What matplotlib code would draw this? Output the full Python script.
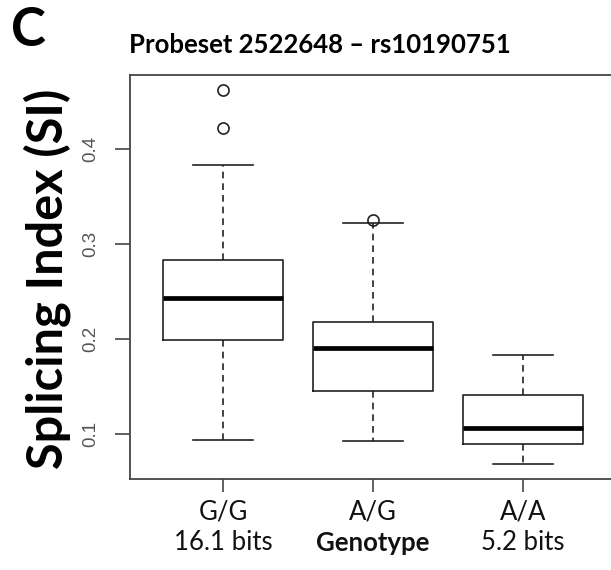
import matplotlib
matplotlib.use("Agg")
import matplotlib.pyplot as plt

# data
genotypes = ["G/G", "A/G", "A/A"]
bits = ["16.1 bits", "", "5.2 bits"]
whislo = [0.094, 0.093, 0.0685]
q1 = [0.199, 0.1457, 0.0898]
med = [0.2433, 0.1902, 0.1069]
q3 = [0.2829, 0.2175, 0.1412]
whishi = [0.3833, 0.3217, 0.1832]
fliers = [[0.4217, 0.462], [0.3249], []]
yticks = [0.1, 0.2, 0.3, 0.4]

plt.rcParams["font.family"] = ["Lato", "DejaVu Sans"]

fig = plt.figure(figsize=(6.11, 5.70), dpi=100)
ax = fig.add_axes([0.2128, 0.1596, 0.7949, 0.7088])

stats = []
for i in range(len(genotypes)):
    stats.append(dict(whislo=whislo[i], q1=q1[i], med=med[i], q3=q3[i],
                      whishi=whishi[i], fliers=fliers[i]))

ax.bxp(stats, positions=[1, 2, 3], widths=0.8, showfliers=True,
       boxprops=dict(color="#222222", linewidth=1.2),
       medianprops=dict(color="black", linewidth=3.4, solid_capstyle="butt"),
       whiskerprops=dict(color="#222222", linewidth=1.2, linestyle=(0, (4, 3))),
       capprops=dict(color="#222222", linewidth=1.2),
       capwidths=0.4,
       flierprops=dict(marker="o", markerfacecolor="none", markeredgecolor="#222222",
                       markersize=8, markeredgewidth=1.2))

ax.set_xlim(0.38, 3.62)
ax.set_ylim(0.0528, 0.4777)

for s in ax.spines.values():
    s.set_color("#444444")
    s.set_linewidth(1.3)

ax.set_yticks(yticks)
ax.set_yticklabels([f"{v:.1f}" for v in yticks], rotation=90, va="center",
                   family="Liberation Sans", fontsize=13.5, color="#555555")
ax.tick_params(axis="y", length=11, width=1.2, color="#444444", pad=11)

ax.set_xticks([1, 2, 3])
ax.set_xticklabels(genotypes, fontsize=18.5, color="#111111")
ax.tick_params(axis="x", length=9.5, width=1.2, color="#444444", pad=5)

for i, b in enumerate(bits):
    if b:
        ax.text(i + 1, -0.158, b, transform=ax.get_xaxis_transform(),
                ha="center", va="center", fontsize=18.5, color="#111111")
ax.text(2, -0.158, "Genotype", transform=ax.get_xaxis_transform(),
        ha="center", va="center", fontsize=18.5, fontweight="bold", color="#111111")

fig.text(0.077, 0.511, "Splicing Index (SI)", rotation=90, ha="center", va="center",
         fontsize=35, fontweight="bold", color="black")
fig.text(0.524, 0.921, "Probeset 2522648 \u2013 rs10190751", ha="center", va="center",
         fontsize=18.5, fontweight="bold", color="black")
fig.text(0.046, 0.947, "C", ha="center", va="center",
         fontsize=38, fontweight="bold", color="black")

fig.savefig("out.png", dpi=100)
